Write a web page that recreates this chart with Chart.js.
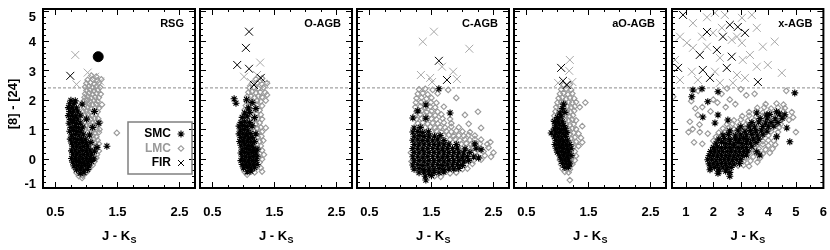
<!DOCTYPE html>
<html>
<head>
<meta charset="utf-8">
<script src="https://cdn.jsdelivr.net/npm/chart.js"></script>
<style>
  html, body { margin: 0; padding: 0; background: #fff; }
  #wrap { position: relative; width: 830px; height: 250px; }
  #wrap canvas { position: absolute; left: 0; top: 0; }
</style>
</head>
<body>
<div id="wrap">
  <canvas id="p0" width="830" height="250"></canvas>
  <canvas id="p1" width="830" height="250"></canvas>
  <canvas id="p2" width="830" height="250"></canvas>
  <canvas id="p3" width="830" height="250"></canvas>
  <canvas id="p4" width="830" height="250"></canvas>
</div>
<script>
/* ---- data ---------------------------------------------------- */

const panelNames = ['RSG', 'O-AGB', 'C-AGB', 'aO-AGB', 'x-AGB'];
const yTickLabels = [-1, 0, 1, 2, 3, 4, 5];
const xTickLabelsNarrow = [0.5, 1.5, 2.5];
const xTickLabelsWide = [1, 2, 3, 4, 5, 6];
const yRange = [-1, 5.08];
const xRangeNarrow = [0.3, 2.75];
const xRangeWide = [0.5, 6.0];
const cutLevel = 2.4;              // dashed [8]-[24] line
const legendNames = ['SMC', 'LMC', 'FIR'];

// RSG
const rsgLmc = [
  [1.08,2.82],[1.16,2.78],[1.02,2.67],[1.1,2.7],[1.18,2.65],[1.24,2.69],
  [1.0,2.55],[1.06,2.58],[1.13,2.53],[1.2,2.57],[0.98,2.43],[1.04,2.46],[1.1,2.41],[1.16,2.45],[1.22,2.42],
  [1.0,2.31],[1.06,2.34],[1.12,2.3],[1.18,2.33],[0.98,2.2],[1.04,2.22],[1.1,2.18],[1.16,2.21],[1.23,2.19],
  [0.97,2.08],[1.02,2.1],[1.08,2.06],[1.14,2.09],[1.2,2.07],[0.96,1.96],[1.01,1.98],[1.06,1.94],[1.12,1.97],[1.18,1.95],
  [0.98,1.84],[1.04,1.86],[1.1,1.82],[1.16,1.85],[1.25,1.83],[0.96,1.72],[1.02,1.74],[1.08,1.7],[1.14,1.73],[1.2,1.71],
  [0.95,1.6],[1.0,1.62],[1.06,1.58],[1.12,1.61],[1.18,1.59],[0.97,1.48],[1.03,1.5],[1.09,1.46],[1.15,1.49],
  [0.95,1.36],[1.01,1.38],[1.07,1.34],[1.13,1.37],[1.19,1.35],[0.98,1.24],[1.04,1.26],[1.1,1.22],[1.16,1.25],[1.22,1.23],
  [1.0,1.12],[1.06,1.14],[1.12,1.1],[1.18,1.13],[0.98,1.0],[1.04,1.02],[1.1,0.98],[1.16,1.01],[1.21,0.99],
  [1.02,0.88],[1.08,0.9],[1.14,0.86],[1.2,0.89],[1.04,0.76],[1.1,0.78],[1.16,0.74],[1.06,0.64],[1.12,0.66],[1.18,0.62],
  [1.08,0.52],[1.14,0.54],[1.2,0.5],[1.1,0.4],[1.16,0.42],[1.08,0.28],[1.15,0.3],[1.2,0.26],[1.12,0.16],[1.17,0.14],
  [1.1,0.04],[1.16,0.02],[1.08,-0.08],[1.13,-0.1],[1.06,-0.2],[1.1,-0.22],[0.82,-0.35],[1.04,-0.36],
  [0.84,-0.48],[0.9,-0.5],[1.0,-0.47],[0.88,-0.6],[0.94,-0.58],[1.49,0.87],[0.93,-0.66]
];
const rsgSmc = [
  [0.9,-0.5],[0.96,-0.48],[0.84,-0.38],[0.9,-0.36],[0.96,-0.39],[1.02,-0.37],
  [0.8,-0.25],[0.86,-0.23],[0.92,-0.26],[0.98,-0.24],[1.04,-0.25],
  [0.78,-0.12],[0.84,-0.1],[0.9,-0.13],[0.96,-0.11],[1.02,-0.12],[1.08,-0.1],
  [0.76,0.0],[0.82,0.02],[0.88,-0.01],[0.94,0.01],[1.0,0.0],[1.06,0.02],[1.12,-0.01],
  [0.78,0.13],[0.84,0.15],[0.9,0.12],[0.96,0.14],[1.02,0.13],[1.08,0.15],
  [0.76,0.26],[0.82,0.28],[0.88,0.25],[0.94,0.27],[1.0,0.26],[1.06,0.28],[1.13,0.25],
  [0.78,0.4],[0.84,0.42],[0.9,0.39],[0.96,0.41],[1.02,0.4],[1.17,0.38],
  [0.76,0.53],[0.82,0.55],[0.88,0.52],[0.94,0.54],[1.0,0.53],[1.07,0.55],
  [0.74,0.66],[0.8,0.68],[0.86,0.65],[0.92,0.67],[0.98,0.66],
  [0.76,0.8],[0.82,0.82],[0.88,0.79],[0.95,0.81],[1.05,0.8],
  [0.73,0.93],[0.79,0.95],[0.85,0.92],[0.91,0.94],
  [0.75,1.06],[0.81,1.08],[0.87,1.05],[0.94,1.07],[1.1,1.06],
  [0.72,1.2],[0.78,1.22],[0.84,1.19],[0.9,1.21],[0.74,1.33],[0.8,1.35],[0.86,1.32],[1.0,1.34],
  [0.71,1.46],[0.77,1.48],[0.83,1.45],[0.9,1.47],[0.73,1.6],[0.79,1.62],[0.86,1.59],[1.13,1.6],
  [0.71,1.73],[0.77,1.75],[0.84,1.72],[0.73,1.86],[0.8,1.88],[0.93,1.85],[0.75,1.98],[0.82,1.96],
  [1.33,0.42],[1.2,1.2]
];
const rsgFirSmc = [[0.74,2.81]];
const rsgFirLmc = [[0.82,3.52],[1.02,2.92],[1.14,2.78],[1.22,2.62],[0.84,2.52]];
const rsgSpecial = [[1.19,3.46]];

// O-AGB
const oagbLmc = [
  [1.2,2.7],[1.3,2.72],[1.14,2.55],[1.22,2.57],[1.3,2.53],[1.38,2.56],
  [1.1,2.4],[1.17,2.42],[1.24,2.38],[1.32,2.41],[1.08,2.25],[1.14,2.27],[1.2,2.23],[1.27,2.26],[1.35,2.24],
  [1.06,2.1],[1.12,2.12],[1.18,2.08],[1.24,2.11],[1.3,2.09],[1.05,1.95],[1.1,1.97],[1.16,1.93],[1.22,1.96],[1.28,1.94],[1.36,1.97],
  [1.04,1.8],[1.1,1.82],[1.16,1.78],[1.22,1.81],[1.3,1.79],[1.02,1.65],[1.08,1.67],[1.14,1.63],[1.2,1.66],[1.26,1.64],
  [1.03,1.5],[1.09,1.52],[1.15,1.48],[1.21,1.51],[1.28,1.49],[1.05,1.35],[1.11,1.37],[1.17,1.33],[1.23,1.36],[1.3,1.34],
  [1.08,1.2],[1.14,1.22],[1.2,1.18],[1.26,1.21],[1.1,1.05],[1.16,1.07],[1.22,1.03],[1.28,1.06],[1.36,1.04],
  [1.12,0.9],[1.18,0.92],[1.24,0.88],[1.3,0.91],[1.1,0.75],[1.17,0.77],[1.23,0.73],[1.29,0.76],
  [1.14,0.6],[1.2,0.62],[1.26,0.58],[1.32,0.61],[1.16,0.45],[1.22,0.47],[1.28,0.43],
  [1.18,0.3],[1.24,0.32],[1.3,0.28],[1.2,0.15],[1.26,0.17],[1.33,0.13],[1.18,0.0],[1.24,0.02],[1.3,-0.02],
  [1.2,-0.15],[1.26,-0.13],[1.14,-0.3],[1.22,-0.28],[1.28,-0.32],
  [1.02,-0.45],[1.1,-0.43],[1.18,-0.47],[1.3,-0.44],[1.06,-0.55],[1.38,2.16]
];
const oagbSmc = [
  [1.06,-0.45],[1.12,-0.43],[1.0,-0.32],[1.06,-0.3],[1.12,-0.33],[1.18,-0.31],
  [0.98,-0.2],[1.04,-0.18],[1.1,-0.21],[1.16,-0.19],[1.22,-0.2],
  [0.96,-0.07],[1.02,-0.05],[1.08,-0.08],[1.14,-0.06],[1.2,-0.07],
  [0.98,0.06],[1.04,0.08],[1.1,0.05],[1.16,0.07],[1.22,0.06],
  [0.96,0.19],[1.02,0.21],[1.08,0.18],[1.14,0.2],[1.2,0.19],
  [0.98,0.32],[1.04,0.34],[1.1,0.31],[1.16,0.33],[1.22,0.32],
  [0.96,0.45],[1.02,0.47],[1.08,0.44],[1.14,0.46],
  [0.94,0.58],[1.0,0.6],[1.06,0.57],[1.12,0.59],[1.18,0.58],
  [0.96,0.71],[1.02,0.73],[1.08,0.7],[1.14,0.72],
  [0.93,0.84],[0.99,0.86],[1.05,0.83],[1.11,0.85],[1.2,0.84],
  [0.95,0.97],[1.01,0.99],[1.07,0.96],[0.93,1.1],[0.99,1.12],[1.06,1.09],[1.14,1.11],
  [0.96,1.23],[1.02,1.25],[1.1,1.22],[0.98,1.4],[1.06,1.42],[1.18,1.39],
  [1.02,1.55],[1.1,1.57],[1.08,1.72],[1.2,1.7],[0.88,1.88],[1.14,1.9],[1.05,2.0],[0.85,2.03]
];
const oagbFirSmc = [[1.09,4.31],[1.04,3.76],[0.9,3.18],[1.09,3.05],[1.28,2.74],[1.17,2.5]];
const oagbFirLmc = [[1.27,3.26],[1.01,2.78],[1.36,2.5],[1.22,2.84],[1.12,2.6]];

// C-AGB
const cagbLmc = [
  [1.3,2.35],[1.4,2.37],[1.52,2.33],[1.77,2.33],[1.28,2.2],[1.36,2.22],[1.44,2.18],[1.6,2.21],
  [1.26,2.05],[1.34,2.07],[1.42,2.03],[1.5,2.06],[1.9,2.06],
  [1.25,1.9],[1.33,1.92],[1.41,1.88],[1.49,1.91],[1.58,1.89],
  [1.24,1.75],[1.32,1.77],[1.4,1.73],[1.48,1.76],[1.56,1.74],[1.7,1.76],
  [1.26,1.6],[1.34,1.62],[1.42,1.58],[1.5,1.61],[1.6,1.59],[2.25,1.59],
  [1.24,1.48],[1.32,1.5],[1.4,1.46],[1.48,1.49],[1.56,1.47],[1.66,1.5],[2.04,1.48],
  [1.26,1.34],[1.34,1.36],[1.42,1.32],[1.5,1.35],[1.58,1.33],[1.68,1.36],[1.8,1.34],
  [1.28,1.2],[1.36,1.22],[1.44,1.18],[1.52,1.21],[1.6,1.19],[1.7,1.22],[1.82,1.2],[2.1,1.18],
  [1.4,1.06],[1.48,1.08],[1.56,1.04],[1.64,1.07],[1.72,1.05],[1.82,1.08],[1.94,1.06],[2.3,1.04],
  [1.5,0.92],[1.58,0.94],[1.66,0.9],[1.74,0.93],[1.82,0.91],[1.9,0.94],[2.0,0.92],[2.12,0.9],
  [1.7,0.78],[1.78,0.8],[1.86,0.76],[1.94,0.79],[2.02,0.77],[2.1,0.8],[2.2,0.78],
  [1.8,0.64],[1.88,0.66],[1.96,0.62],[2.04,0.65],[2.12,0.63],[2.2,0.66],[2.3,0.64],
  [1.98,0.5],[2.06,0.52],[2.14,0.48],[2.28,0.51],[2.4,0.49],[2.45,0.56],
  [2.1,0.36],[2.16,0.38],[2.3,0.34],[2.42,0.37],[2.2,0.22],[2.34,0.24],[2.5,0.2],
  [2.24,0.08],[2.36,0.1],[2.46,0.06],[2.18,-0.06],[2.3,-0.04],[2.06,-0.2],[2.16,-0.18],
  [2.0,-0.36],[2.08,-0.34],[1.8,-0.5],[1.9,-0.48],[1.55,-0.6],[1.65,-0.62],[1.18,-0.1],[1.17,0.2]
];
const cagbSmc = [
  [1.4,-0.6],[1.5,-0.58],
  [1.3,-0.48],[1.38,-0.46],[1.46,-0.49],[1.54,-0.47],[1.62,-0.48],[1.7,-0.46],
  [1.22,-0.36],[1.3,-0.34],[1.38,-0.37],[1.46,-0.35],[1.54,-0.36],[1.62,-0.34],[1.7,-0.37],[1.78,-0.35],[1.86,-0.36],[1.94,-0.34],
  [1.2,-0.22],[1.28,-0.2],[1.36,-0.23],[1.44,-0.21],[1.52,-0.22],[1.6,-0.2],[1.68,-0.23],[1.76,-0.21],[1.84,-0.22],[1.92,-0.2],[2.0,-0.23],
  [1.22,-0.08],[1.3,-0.06],[1.38,-0.09],[1.46,-0.07],[1.54,-0.08],[1.62,-0.06],[1.7,-0.09],[1.78,-0.07],[1.86,-0.08],[1.94,-0.06],[2.02,-0.09],[2.1,-0.07],
  [1.2,0.06],[1.28,0.08],[1.36,0.05],[1.44,0.07],[1.52,0.06],[1.6,0.08],[1.68,0.05],[1.76,0.07],[1.84,0.06],[1.92,0.08],[2.0,0.05],[2.08,0.07],[2.18,0.06],
  [1.22,0.2],[1.3,0.22],[1.38,0.19],[1.46,0.21],[1.54,0.2],[1.62,0.22],[1.7,0.19],[1.78,0.21],[1.86,0.2],[1.94,0.22],[2.02,0.19],[2.12,0.21],
  [1.2,0.34],[1.28,0.36],[1.36,0.33],[1.44,0.35],[1.52,0.34],[1.6,0.36],[1.68,0.33],[1.76,0.35],[1.84,0.34],[1.92,0.36],[2.04,0.33],[2.22,0.35],
  [1.22,0.48],[1.3,0.5],[1.38,0.47],[1.46,0.49],[1.54,0.48],[1.62,0.5],[1.7,0.47],[1.78,0.49],[1.9,0.48],[2.2,0.5],
  [1.2,0.62],[1.28,0.64],[1.36,0.61],[1.44,0.63],[1.52,0.62],[1.6,0.64],[1.7,0.61],
  [1.22,0.76],[1.3,0.78],[1.38,0.75],[1.46,0.77],[1.55,0.76],[1.64,0.78],
  [1.2,0.9],[1.28,0.92],[1.36,0.89],[1.45,0.91],[1.22,1.04],[1.32,1.06],
  [1.41,-0.73],[1.2,1.38],[1.41,1.37],[1.41,1.82],[1.62,2.37],[1.8,1.55],[1.28,1.62],[2.3,0.3],[2.26,0.02]
];
const cagbFirSmc = [[1.62,3.32],[1.75,2.67]];
const cagbFirLmc = [[1.54,4.31],[1.36,3.97],[2.11,3.73],[1.85,2.95],[1.91,2.7],[1.33,2.84],[1.48,2.74],[1.67,3.12],[1.51,2.6]];

// aO-AGB
const aoagbLmc = [
  [1.1,2.5],[1.2,2.52],[1.06,2.35],[1.14,2.37],[1.22,2.33],
  [1.04,2.2],[1.1,2.22],[1.17,2.18],[1.24,2.21],[1.02,2.05],[1.08,2.07],[1.14,2.03],[1.2,2.06],[1.27,2.04],
  [1.0,1.9],[1.06,1.92],[1.12,1.88],[1.18,1.91],[1.24,1.89],[1.3,1.92],[1.45,1.9],
  [0.98,1.75],[1.04,1.77],[1.1,1.73],[1.16,1.76],[1.22,1.74],[1.28,1.77],[1.36,1.75],
  [0.97,1.6],[1.03,1.62],[1.09,1.58],[1.15,1.61],[1.21,1.59],[1.27,1.62],
  [0.95,1.45],[1.01,1.47],[1.07,1.43],[1.13,1.46],[1.19,1.44],[1.25,1.47],
  [0.94,1.3],[1.0,1.32],[1.06,1.28],[1.12,1.31],[1.18,1.29],[1.24,1.32],[1.3,1.3],
  [0.96,1.15],[1.02,1.17],[1.08,1.13],[1.14,1.16],[1.2,1.14],[1.26,1.17],[1.4,1.1],
  [0.94,1.0],[1.0,1.02],[1.06,0.98],[1.12,1.01],[1.18,0.99],[1.24,1.02],[1.3,1.0],
  [0.96,0.85],[1.02,0.87],[1.08,0.83],[1.14,0.86],[1.2,0.84],[1.26,0.87],[1.34,0.85],
  [0.98,0.7],[1.04,0.72],[1.1,0.68],[1.16,0.71],[1.22,0.69],[1.28,0.72],[1.38,0.7],
  [1.0,0.55],[1.06,0.57],[1.12,0.53],[1.18,0.56],[1.24,0.54],[1.3,0.57],[1.4,0.55],
  [1.02,0.4],[1.08,0.42],[1.14,0.38],[1.2,0.41],[1.26,0.39],[1.34,0.42],
  [1.04,0.25],[1.1,0.27],[1.16,0.23],[1.22,0.26],[1.28,0.24],
  [1.06,0.1],[1.12,0.12],[1.18,0.08],[1.24,0.11],[1.3,0.09],
  [1.04,-0.05],[1.1,-0.03],[1.16,-0.07],[1.22,-0.04],[1.28,-0.06],
  [1.06,-0.2],[1.12,-0.18],[1.18,-0.22],[1.24,-0.19],[1.08,-0.35],[1.14,-0.33],[1.2,-0.37],
  [1.12,-0.45],[1.18,-0.47],[1.2,-0.73]
];
const aoagbSmc = [
  [1.12,-0.3],[1.18,-0.28],[1.08,-0.17],[1.14,-0.15],[1.2,-0.18],
  [1.06,-0.04],[1.12,-0.02],[1.18,-0.05],[1.04,0.09],[1.1,0.11],[1.16,0.08],[1.22,0.1],
  [1.0,0.22],[1.06,0.24],[1.12,0.21],[1.18,0.23],[0.98,0.35],[1.04,0.37],[1.1,0.34],[1.16,0.36],[1.22,0.35],
  [0.96,0.48],[1.02,0.5],[1.08,0.47],[1.14,0.49],[1.2,0.48],[0.98,0.61],[1.04,0.63],[1.1,0.6],[1.16,0.62],
  [0.95,0.74],[1.01,0.76],[1.07,0.73],[1.13,0.75],[0.97,0.87],[1.03,0.89],[1.09,0.86],[1.15,0.88],
  [0.95,1.0],[1.01,1.02],[1.07,0.99],[1.13,1.01],[0.97,1.13],[1.03,1.15],[1.1,1.12],
  [0.95,1.26],[1.01,1.28],[1.08,1.25],[1.0,1.4],[1.06,1.42],[1.04,1.55],[1.12,1.57],[1.08,1.7],[1.1,1.85],
  [0.9,0.87]
];
const aoagbFirSmc = [[1.06,3.08],[1.09,2.64],[1.15,2.5]];
const aoagbFirLmc = [[1.2,3.35],[1.19,2.98],[1.24,2.6],[1.01,2.57]];

// x-AGB
const xagbLmc = [
  [3.9,1.85],[4.3,1.87],[4.55,1.83],[3.6,1.72],[3.85,1.74],[4.1,1.7],[4.35,1.73],[4.6,1.71],
  [3.3,1.58],[3.55,1.6],[3.8,1.56],[4.05,1.59],[4.3,1.57],[4.55,1.6],[4.85,1.58],
  [3.05,1.44],[3.3,1.46],[3.55,1.42],[3.8,1.45],[4.05,1.43],[4.3,1.46],[4.6,1.44],
  [2.75,1.3],[3.0,1.32],[3.25,1.28],[3.5,1.31],[3.75,1.29],[4.0,1.32],[4.25,1.3],[4.5,1.33],[4.75,1.31],
  [2.5,1.16],[2.7,1.18],[2.95,1.14],[3.2,1.17],[3.45,1.15],[3.7,1.18],[3.95,1.16],[4.2,1.19],[4.45,1.17],
  [2.35,1.02],[2.55,1.04],[2.75,1.0],[2.95,1.03],[3.15,1.01],[3.4,1.04],[3.6,1.02],[3.85,1.05],[4.1,1.03],[4.4,1.06],
  [2.2,0.88],[2.4,0.9],[2.6,0.86],[2.8,0.89],[3.0,0.87],[3.2,0.9],[3.4,0.88],[3.6,0.91],[3.85,0.89],[4.1,0.92],[4.35,0.9],
  [2.1,0.74],[2.3,0.76],[2.5,0.72],[2.7,0.75],[2.9,0.73],[3.1,0.76],[3.3,0.74],[3.5,0.77],[3.75,0.75],[4.0,0.78],[4.3,0.76],
  [2.0,0.6],[2.2,0.62],[2.4,0.58],[3.6,0.61],[3.8,0.59],[4.0,0.62],[4.2,0.6],
  [3.6,0.46],[3.8,0.48],[4.0,0.44],[4.25,0.47],[3.4,0.32],[3.65,0.34],[3.9,0.3],[4.15,0.33],
  [3.3,0.18],[3.55,0.2],[3.8,0.16],[4.05,0.19],[3.2,0.04],[3.45,0.06],[3.7,0.02],
  [3.1,-0.1],[3.35,-0.08],[3.6,-0.12],[2.9,-0.24],[3.1,-0.22],[3.3,-0.26],
  [1.1,0.9],[1.25,1.0],[1.15,1.25],[1.5,1.15],[1.35,1.7],[1.6,1.75],[1.2,1.95],[1.9,1.6],[2.0,2.0],
  [2.3,2.2],[2.15,1.9],[2.45,1.75],[2.6,2.0],[2.8,1.85],[3.2,2.15],[1.45,2.3],[0.54,2.1],[2.5,2.38],
  [3.0,2.35],[3.5,2.2],[4.65,2.3],[1.8,0.85],[1.6,0.5],[1.3,0.55],[4.9,1.4],[5.0,0.9],[1.44,1.48],[1.51,0.9]
];
const xagbSmc = [
  [2.2,-0.45],[2.45,-0.43],[2.6,-0.47],
  [1.9,-0.32],[2.05,-0.3],[2.2,-0.33],[2.35,-0.31],[2.5,-0.32],[2.65,-0.3],
  [1.85,-0.18],[2.0,-0.16],[2.15,-0.19],[2.3,-0.17],[2.45,-0.18],[2.6,-0.16],[2.75,-0.19],[2.95,-0.17],
  [1.8,-0.04],[1.95,-0.02],[2.1,-0.05],[2.25,-0.03],[2.4,-0.04],[2.55,-0.02],[2.7,-0.05],[2.85,-0.03],[3.0,-0.04],
  [1.85,0.1],[2.0,0.12],[2.15,0.09],[2.3,0.11],[2.45,0.1],[2.6,0.12],[2.75,0.09],[2.9,0.11],[3.05,0.1],[3.2,0.12],
  [1.9,0.24],[2.05,0.26],[2.2,0.23],[2.35,0.25],[2.5,0.24],[2.65,0.26],[2.8,0.23],[2.95,0.25],[3.1,0.24],[3.25,0.26],
  [2.0,0.38],[2.15,0.4],[2.3,0.37],[2.45,0.39],[2.6,0.38],[2.75,0.4],[2.9,0.37],[3.05,0.39],[3.2,0.38],[3.4,0.4],
  [2.1,0.52],[2.3,0.54],[2.45,0.51],[2.6,0.53],[2.75,0.52],[2.9,0.54],[3.05,0.51],[3.2,0.53],[3.35,0.52],[3.55,0.54],
  [2.2,0.66],[2.4,0.68],[2.6,0.65],[2.8,0.67],[2.95,0.66],[3.1,0.68],[3.25,0.65],[3.45,0.67],[3.65,0.66],
  [2.35,0.8],[2.55,0.82],[2.8,0.79],[3.0,0.81],[3.2,0.8],[3.4,0.82],[3.6,0.79],[3.8,0.81],
  [2.6,0.94],[2.9,0.96],[3.15,0.93],[3.35,0.95],[3.55,0.94],[3.75,0.96],[3.95,0.93],
  [3.0,1.08],[3.3,1.1],[3.5,1.07],[3.8,1.09],[4.0,1.08],[4.2,1.1],
  [3.4,1.22],[3.65,1.24],[3.9,1.21],[4.1,1.23],[4.35,1.22],[3.7,1.36],[3.95,1.38],[4.25,1.35],[4.5,1.37],
  [4.05,1.5],[4.4,1.52],[4.6,1.49],
  [1.26,2.33],[1.59,2.37],[4.96,2.23],[2.17,2.27],[1.22,2.1],[1.8,1.93],[2.17,1.48],[1.62,1.41],[2.06,1.21],
  [2.53,1.31],[3.58,1.55],[3.94,1.48],[4.3,1.59],[4.78,0.57],[4.67,1.04],[4.3,0.74],[3.58,0.23],[3.69,0.12],
  [2.6,-0.6],[2.17,-0.5],[1.88,-0.38]
];
const xagbFirSmc = [
  [0.9,4.88],[2.6,4.54],[1.77,4.3],[2.35,4.14],[2.13,3.69],[1.51,3.52],[2.67,3.46],[0.72,3.08],[1.62,3.01],
  [2.49,3.08],[1.88,2.74],[3.62,2.6],[3.15,4.27],[2.89,4.47]
];
const xagbFirLmc = [
  [1.26,4.6],[1.77,4.8],[2.06,4.95],[2.42,4.88],[3.04,4.78],[3.4,4.88],[1.99,4.27],[1.59,4.14],[2.67,4.03],
  [2.86,4.14],[1.04,3.93],[0.79,4.14],[1.77,3.8],[3.04,3.93],[3.8,3.8],[4.23,3.97],[2.24,3.42],[3.07,3.35],
  [3.33,3.52],[3.58,3.12],[3.98,3.18],[1.22,2.95],[2.06,2.95],[2.86,2.84],[1.44,2.67],[3.15,2.74],[4.49,2.91],
  [0.79,2.67],[2.24,2.57],[2.71,2.57],[0.61,3.35],[1.26,3.76],[2.31,4.44],[3.58,4.44]
];

/* ---- layout --------------------------------------------------- */

const FONT = "'Liberation Sans', Arial, Helvetica, sans-serif";
const GRAY = '#9a9a9a';
const panelLeft = [43, 200, 357, 514, 672];
const panelWidth = 152;
const panelTop = 9, panelBottom = 188;

const toXY = pts => pts.map(([x, y]) => ({ x, y }));

const pointStyles = {
  smc: { pointStyle: 'star', radius: 3.5, borderWidth: 1.1, color: '#000' },
  lmc: { pointStyle: 'rectRot', radius: 2.8, borderWidth: 1.15, color: GRAY },
  fir: { pointStyle: 'crossRot', radius: 5.6, borderWidth: 1, color: '#000' },
};

function scatterSet(label, pts, style, color, order) {
  return {
    type: 'scatter', label, data: toXY(pts), order, clip: 0,
    pointStyle: style.pointStyle, pointRadius: style.radius, pointBorderWidth: style.borderWidth,
    borderColor: color, pointBorderColor: color, backgroundColor: 'rgba(0,0,0,0)',
    pointBackgroundColor: 'rgba(0,0,0,0)',
  };
}

/* ---- IDL-like frame, inward ticks, labels ---------------------- */

function tickMarks(ctx, scale, from, to, step, majors, horizontal, a) {
  const n = Math.round((to - from) / step);
  for (let i = 0; i <= n; i++) {
    const v = from + i * step;
    const len = majors.some(m => Math.abs(m - v) < 1e-6) ? 6 : 3;
    const p = Math.round(scale.getPixelForValue(v)) + 0.5;
    if (horizontal) {
      ctx.moveTo(p, a.bottom); ctx.lineTo(p, a.bottom - len);
      ctx.moveTo(p, a.top); ctx.lineTo(p, a.top + len);
    } else {
      ctx.moveTo(a.left, p); ctx.lineTo(a.left + len, p);
      ctx.moveTo(a.right, p); ctx.lineTo(a.right - len, p);
    }
  }
}

function drawSymbol(ctx, style, color, x, y) {
  ctx.save();
  ctx.strokeStyle = color;
  ctx.fillStyle = 'rgba(0,0,0,0)';
  ctx.lineWidth = style.borderWidth;
  Chart.helpers.drawPoint(ctx, { pointStyle: style.pointStyle, radius: style.radius, borderWidth: style.borderWidth, rotation: 0 }, x, y);
  ctx.restore();
}

const idlAxes = {
  id: 'idlAxes',
  afterDraw(chart, args, o) {
    const { ctx, chartArea: a } = chart;
    const xs = chart.scales.x, ys = chart.scales.y;
    ctx.save();

    // ticks
    ctx.strokeStyle = '#000';
    ctx.lineWidth = 1;
    ctx.beginPath();
    tickMarks(ctx, xs, o.xMinorFrom, xs.max, o.xMinorStep, o.xLabels, true, a);
    tickMarks(ctx, ys, yTickLabels[0], 5, 0.2, yTickLabels, false, a);
    ctx.stroke();

    // frame
    ctx.lineWidth = 2;
    ctx.strokeRect(a.left, a.top, a.right - a.left, a.bottom - a.top);

    // x tick labels
    ctx.fillStyle = '#000';
    ctx.font = 'bold 13px ' + FONT;
    ctx.textAlign = 'center';
    ctx.textBaseline = 'middle';
    o.xLabels.forEach(v => ctx.fillText(String(v), xs.getPixelForValue(v), a.bottom + 24));

    // y tick labels (first panel only)
    if (o.yLabels) {
      ctx.textAlign = 'right';
      yTickLabels.forEach(v => {
        const p = Math.min(Math.max(ys.getPixelForValue(v) + 2, a.top + 8), a.bottom - 4);
        ctx.fillText(String(v), a.left - 7, p);
      });
      ctx.save();
      ctx.translate(13, 104);
      ctx.rotate(-Math.PI / 2);
      ctx.textAlign = 'center';
      ctx.fillText('[8] - [24]', 0, 0);
      ctx.restore();
    }

    // x title  J - K_S
    const cx = (a.left + a.right) / 2;
    ctx.font = 'bold 13px ' + FONT;
    const w1 = ctx.measureText('J - K').width;
    ctx.font = 'bold 9px ' + FONT;
    const w2 = ctx.measureText('S').width;
    const x0 = cx - (w1 + w2) / 2;
    ctx.textAlign = 'left';
    ctx.textBaseline = 'alphabetic';
    ctx.font = 'bold 13px ' + FONT;
    ctx.fillText('J - K', x0, a.bottom + 52);
    ctx.font = 'bold 9px ' + FONT;
    ctx.fillText('S', x0 + w1 + 0.5, a.bottom + 55);

    // panel name
    ctx.font = 'bold 11px ' + FONT;
    ctx.textAlign = 'right';
    ctx.textBaseline = 'middle';
    ctx.fillText(o.name, a.right - 11, a.top + 15);

    // legend box (first panel only)
    if (o.legend) {
      const bx = a.left + 85, by = a.top + 113;
      ctx.strokeStyle = '#808080';
      ctx.lineWidth = 1.5;
      ctx.strokeRect(bx, by, 64, 52);
      const rows = [
        [legendNames[0], '#000', pointStyles.smc, '#000'],
        [legendNames[1], GRAY, pointStyles.lmc, GRAY],
        [legendNames[2], '#000', pointStyles.fir, '#000'],
      ];
      ctx.font = 'bold 12px ' + FONT;
      ctx.textAlign = 'right';
      rows.forEach(([txt, tc, st, sc], i) => {
        const ry = by + 12 + i * 14.5;
        ctx.fillStyle = tc;
        ctx.fillText(txt, bx + 43, ry);
        const s = i === 2 ? Object.assign({}, st, { radius: 4.2 }) : st;
        drawSymbol(ctx, s, sc, bx + 53, ry);
      });
    }
    ctx.restore();
  }
};

/* ---- build the five panels ------------------------------------ */

const panelData = [
  [rsgLmc, rsgSmc, rsgFirLmc, rsgFirSmc],
  [oagbLmc, oagbSmc, oagbFirLmc, oagbFirSmc],
  [cagbLmc, cagbSmc, cagbFirLmc, cagbFirSmc],
  [aoagbLmc, aoagbSmc, aoagbFirLmc, aoagbFirSmc],
  [xagbLmc, xagbSmc, xagbFirLmc, xagbFirSmc],
];

panelNames.forEach((name, i) => {
  const wide = i === 4;
  const xr = wide ? xRangeWide : xRangeNarrow;
  const [lmc, smc, firL, firS] = panelData[i];
  const datasets = [
    {
      type: 'line', label: 'cut', order: 10,
      data: [{ x: xr[0], y: cutLevel }, { x: xr[1], y: cutLevel }],
      borderColor: '#8a8a8a', borderWidth: 1, borderDash: [3, 2], pointRadius: 0, fill: false,
    },
    scatterSet('LMC', lmc, pointStyles.lmc, GRAY, 6),
    scatterSet('SMC', smc, pointStyles.smc, '#000', 5),
    scatterSet('FIR LMC', firL, pointStyles.fir, '#a8a8a8', 4),
    scatterSet('FIR SMC', firS, pointStyles.fir, '#000', 3),
  ];
  if (i === 0) {
    datasets.push({
      type: 'scatter', label: 'special', data: toXY(rsgSpecial), order: 1,
      pointStyle: 'circle', pointRadius: 5, pointBackgroundColor: '#000', pointBorderColor: '#000',
    });
  }
  new Chart(document.getElementById('p' + i), {
    data: { datasets },
    options: {
      responsive: false, animation: false, devicePixelRatio: 1,
      layout: { padding: { left: panelLeft[i], right: 830 - panelLeft[i] - panelWidth, top: panelTop, bottom: 250 - panelBottom } },
      scales: {
        x: { type: 'linear', min: xr[0], max: xr[1], display: false },
        y: { type: 'linear', min: yRange[0], max: yRange[1], display: false },
      },
      plugins: {
        legend: { display: false }, tooltip: { enabled: false },
        idlAxes: {
          name, yLabels: i === 0, legend: i === 0,
          xLabels: wide ? xTickLabelsWide : xTickLabelsNarrow,
          xMinorFrom: 0.5, xMinorStep: wide ? 0.5 : 0.25,
        },
      },
    },
    plugins: [idlAxes],
  });
});
</script>
</body>
</html>
